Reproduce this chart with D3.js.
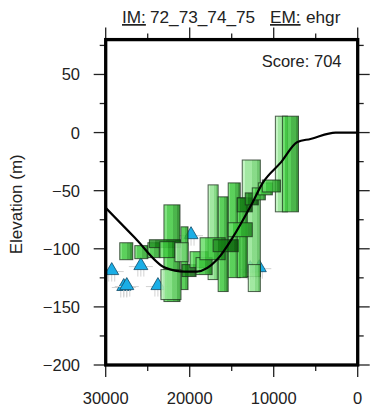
<!DOCTYPE html>
<html><head><meta charset="utf-8">
<script src="https://cdn.jsdelivr.net/npm/d3@7"></script>
<style>body{margin:0;background:#fff}svg{display:block}text{font-family:"Liberation Sans",Arial,Helvetica,sans-serif;fill:#222}</style>
</head><body><svg id="c" width="374" height="417"></svg>
<script>
// ---- data ----
const xTicks = [30000, 20000, 10000, 0];
const xMinor = [25000, 15000, 5000];
const yTicks = [50, 0, -50, -100, -150, -200];
const yMinor = [75, 25, -25, -75, -125, -175];
const titleIM = "72_73_74_75";
const titleEM = "ehgr";
const scoreText = "Score: 704";
// model curve (age, elevation)
const curveAge  = [30000, 26530, 22950, 20560, 19120, 16730, 14820, 12790, 11230, 9200, 7170, 5620, 2630, 0];
const curveElev = [-64.8, -90.5, -116.2, -119.6, -119.6, -109.3, -89.6, -63.9, -42.5, -26.1, -8.1, -5.5, 0, 0];
// observation boxes: older age, younger age, top elev, bottom elev, shade
const boxOld   = [17809, 13745, 13027, 9801, 16613, 15418, 14342, 8964, 23067, 21036, 23425, 28326, 26533, 24980, 24800, 23545, 21753, 20916, 19960, 19243, 18765, 17211, 15418, 14342, 13386, 12550, 11832, 11354];
const boxYoung = [16613, 11593, 11593, 8366, 15418, 13984, 13147, 7052, 21155, 20199, 21036, 26773, 24980, 23545, 21100, 21753, 20199, 19243, 17809, 17330, 15777, 14223, 12550, 12550, 11832, 10996, 10159, 9203];
const boxTop   = [-45.0, -23.6, -113.6, 14.1, -55.3, -43.3, -56.2, 14.1, -62.2, -81.1, -117.9, -94.8, -97.3, -94.8, -92.2, -93.9, -94.8, -113.6, -102.5, -107.6, -90.5, -92.2, -77.6, -56.2, -51.9, -47.6, -43.3, -40.8];
const boxBot   = [-126.5, -123.9, -136.8, -68.2, -136.8, -124.8, -124.8, -68.2, -145.4, -135.1, -143.7, -109.4, -108.5, -107.6, -99.0, -107.6, -111.1, -123.9, -116.2, -122.2, -109.4, -102.5, -89.6, -68.2, -62.2, -57.9, -53.6, -51.1];
const boxShade = ["light","light","light","light","medium","medium","medium","medium","medium","medium","light","medium","medium","medium","dark","medium","light","dark","medium","medium","medium","dark","medium","dark","dark","medium","medium","medium"];
// limiting points (triangles)
const triAge  = [29282, 27848, 27490, 25816, 23784, 19840, 12789, 11713];
const triElev = [-117.9, -131.6, -130.8, -113.6, -130.8, -87.0, -116.2, -115.4];

// ---- chart ----
const svg = d3.select("#c");
const L = 105.7, R = 357.7, T = 39.6, B = 365;
const x = d3.scaleLinear().domain([30000, 0]).range([L, R]);
const y = d3.scaleLinear().domain([-200, 80]).range([B, T]);

const defs = svg.append("defs");
const shades = {
  light:  ["#b8f3b8", "#92e492", "#74d474", "#58be58"],
  medium: ["#6ade6a", "#3fc83f", "#2ca82c", "#1b861b"],
  dark:   ["#2a962a", "#137a13", "#0d660d", "#085408"]
};
Object.entries(shades).forEach(([k, c]) => {
  const g = defs.append("linearGradient").attr("id", "g-" + k).attr("x1", 0).attr("x2", 1).attr("y1", 0).attr("y2", 0);
  const stops = [[0, c[0]], [0.18, c[0]], [0.18, c[1]], [0.55, c[1]], [0.55, c[2]], [0.82, c[2]], [0.82, c[3]], [1, c[3]]];
  stops.forEach(s => g.append("stop").attr("offset", s[0]).attr("stop-color", s[1]));
});
defs.append("clipPath").attr("id", "clip").append("rect").attr("x", L).attr("y", T).attr("width", R - L).attr("height", B - T);

const plot = svg.append("g").attr("clip-path", "url(#clip)");

// triangles with whiskers
const tri = plot.append("g");
triAge.forEach((a, i) => {
  const cx = x(a), cy = y(triElev[i]);
  const g = tri.append("g");
  g.append("line").attr("x1", cx - 12).attr("x2", cx + 12).attr("y1", cy + 2).attr("y2", cy + 2).attr("stroke", "#d2d2d2").attr("stroke-width", 1);
  [-3, 0, 3].forEach(d => g.append("line").attr("x1", cx + d).attr("x2", cx + d).attr("y1", cy + 4).attr("y2", cy + 12).attr("stroke", "#d2d2d2").attr("stroke-width", 1));
  g.append("path").attr("d", `M${cx},${cy - 7}L${cx + 7},${cy + 5}L${cx - 7},${cy + 5}Z`)
    .attr("fill", "#1aaee6").attr("stroke", "#124a66").attr("stroke-width", 0.8);
});

// boxes
const boxes = plot.append("g");
boxOld.forEach((o, i) => {
  const x0 = x(o), x1 = x(boxYoung[i]), y0 = y(boxTop[i]), y1 = y(boxBot[i]);
  boxes.append("rect").attr("x", x0).attr("y", y0).attr("width", x1 - x0).attr("height", y1 - y0)
    .attr("fill", `url(#g-${boxShade[i]})`).attr("fill-opacity", 0.85)
    .attr("stroke", "#1a2a1a").attr("stroke-opacity", 0.75).attr("stroke-width", 1);
});

// curve
plot.append("path").datum(curveAge.map((a, i) => [a, curveElev[i]]))
  .attr("d", d3.line().x(d => x(d[0])).y(d => y(d[1])).curve(d3.curveMonotoneX))
  .attr("fill", "none").attr("stroke", "#000").attr("stroke-width", 2.2);

// ticks
const tk = svg.append("g").attr("stroke", "#222").attr("stroke-width", 1.3);
const maj = 12, mnr = 6;
xTicks.forEach(v => { tk.append("line").attr("x1", x(v)).attr("x2", x(v)).attr("y1", B).attr("y2", B + maj);
  tk.append("line").attr("x1", x(v)).attr("x2", x(v)).attr("y1", T).attr("y2", T - maj); });
xMinor.forEach(v => { tk.append("line").attr("x1", x(v)).attr("x2", x(v)).attr("y1", B).attr("y2", B + mnr);
  tk.append("line").attr("x1", x(v)).attr("x2", x(v)).attr("y1", T).attr("y2", T - mnr); });
yTicks.forEach(v => { tk.append("line").attr("y1", y(v)).attr("y2", y(v)).attr("x1", L).attr("x2", L - maj);
  tk.append("line").attr("y1", y(v)).attr("y2", y(v)).attr("x1", R).attr("x2", R + maj); });
yMinor.forEach(v => { tk.append("line").attr("y1", y(v)).attr("y2", y(v)).attr("x1", L).attr("x2", L - mnr);
  tk.append("line").attr("y1", y(v)).attr("y2", y(v)).attr("x1", R).attr("x2", R + mnr); });

// frame
svg.append("rect").attr("x", L).attr("y", T).attr("width", R - L).attr("height", B - T)
  .attr("fill", "none").attr("stroke", "#000").attr("stroke-width", 3.3);

// labels
const fmtY = d => d < 0 ? "\u2212" + Math.abs(d) : String(d);
svg.append("g").selectAll("text").data(yTicks).join("text")
  .attr("x", 80).attr("y", d => y(d)).attr("dy", "0.36em").attr("text-anchor", "end")
  .attr("font-size", 16.5).text(fmtY);
svg.append("g").selectAll("text").data(xTicks).join("text")
  .attr("x", d => x(d)).attr("y", 404).attr("text-anchor", "middle")
  .attr("font-size", 16.5).text(d => String(d));
svg.append("text").attr("transform", `translate(22,${(T + B) / 2 + 2}) rotate(-90)`)
  .attr("text-anchor", "middle").attr("font-size", 17).text("Elevation (m)");
svg.append("text").attr("x", 341.5).attr("y", 67).attr("text-anchor", "end").attr("font-size", 16.5).text(scoreText);

const title = svg.append("text").attr("y", 23).attr("font-size", 17.2);
title.append("tspan").attr("x", 122).attr("text-decoration", "underline").text("IM:");
title.append("tspan").attr("x", 150).text(titleIM);
title.append("tspan").attr("x", 270).attr("text-decoration", "underline").text("EM:");
title.append("tspan").attr("x", 306).text(titleEM);
</script></body></html>
